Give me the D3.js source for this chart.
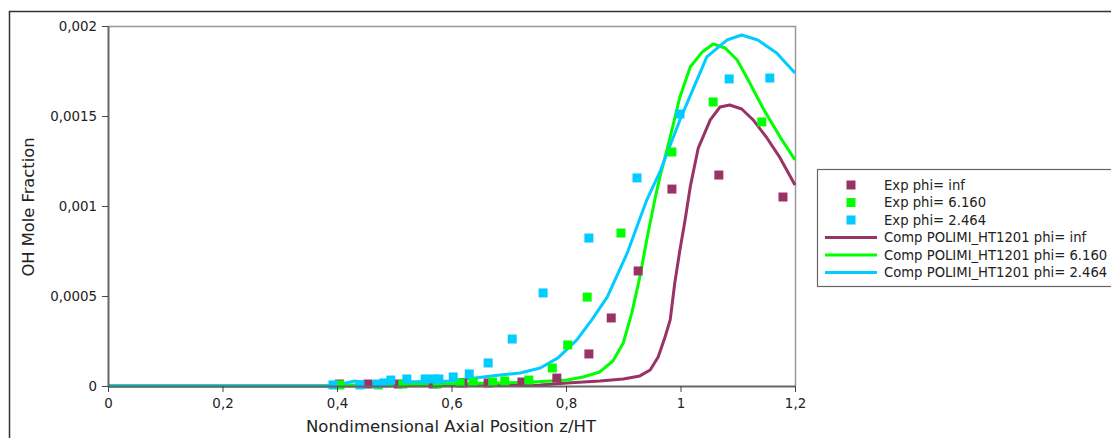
<!DOCTYPE html>
<html>
<head>
<meta charset="utf-8">
<script src="https://cdn.jsdelivr.net/npm/d3@7"></script>
<style>
  body { margin: 0; background: #fff; }
  svg { display: block; font-family: "DejaVu Sans", sans-serif; }
</style>
</head>
<body>
<svg id="chart" width="1111" height="438"></svg>
<script>
// experimental points [z/HT, OH]
const expInf = [
  [0.404, 0.000011], [0.454, 0.000011], [0.507, 0.000011], [0.568, 0.000011],
  [0.620, 0.000017], [0.664, 0.000017], [0.723, 0.000022], [0.784, 0.000044],
  [0.840, 0.000178], [0.879, 0.000378], [0.926, 0.000639], [0.985, 0.001094],
  [1.067, 0.001172], [1.179, 0.001050]
]
const exp6160 = [
  [0.405, 0.000006], [0.472, 0.000006], [0.515, 0.000011], [0.575, 0.000011],
  [0.615, 0.000017], [0.638, 0.000022], [0.672, 0.000022], [0.693, 0.000028],
  [0.735, 0.000033], [0.776, 0.000100], [0.803, 0.000228], [0.837, 0.000494],
  [0.896, 0.000850], [0.985, 0.001300], [1.057, 0.001578], [1.142, 0.001467]
]
const exp2464 = [
  [0.393, 0.000006], [0.440, 0.000006], [0.470, 0.000011], [0.482, 0.000017],
  [0.494, 0.000033], [0.522, 0.000039], [0.554, 0.000039], [0.568, 0.000039],
  [0.578, 0.000039], [0.603, 0.000050], [0.631, 0.000067], [0.664, 0.000128],
  [0.706, 0.000261], [0.760, 0.000517], [0.840, 0.000822], [0.924, 0.001156],
  [0.999, 0.001511], [1.085, 0.001706], [1.156, 0.001711]
]

// computed profiles
const compInf = [
  [0, 0], [0.4, 0], [0.685, 0.000003], [0.755, 0.000006], [0.802, 0.000017],
  [0.859, 0.000028], [0.900, 0.000039], [0.929, 0.000056], [0.947, 0.000089],
  [0.961, 0.000161], [0.973, 0.000272], [0.982, 0.000367], [0.990, 0.000572],
  [0.999, 0.000756], [1.008, 0.000922], [1.017, 0.001106], [1.031, 0.001322],
  [1.052, 0.001478], [1.069, 0.001550], [1.086, 0.001561], [1.107, 0.001539],
  [1.127, 0.001478], [1.151, 0.001378], [1.174, 0.001267], [1.200, 0.001117]
]
const comp6160 = [
  [0, 0], [0.405, 0], [0.423, 0.000006], [0.685, 0.000017], [0.742, 0.000022],
  [0.802, 0.000033], [0.830, 0.000050], [0.859, 0.000078], [0.882, 0.000139],
  [0.900, 0.000239], [0.915, 0.000406], [0.929, 0.000606], [0.941, 0.000811],
  [0.955, 0.001033], [0.964, 0.001161], [0.982, 0.001383], [0.999, 0.001606],
  [1.017, 0.001772], [1.038, 0.001856], [1.057, 0.001900], [1.078, 0.001878],
  [1.099, 0.001811], [1.121, 0.001683], [1.144, 0.001544], [1.174, 0.001383],
  [1.200, 0.001256]
]
const comp2464 = [
  [0, 0], [0.393, 0], [0.431, 0.000028], [0.458, 0.000017], [0.510, 0.000022],
  [0.597, 0.000028], [0.685, 0.000061], [0.720, 0.000072], [0.755, 0.000100],
  [0.786, 0.000156], [0.819, 0.000256], [0.845, 0.000367], [0.872, 0.000494],
  [0.907, 0.000739], [0.941, 0.001033], [0.964, 0.001189], [0.999, 0.001478],
  [1.046, 0.001828], [1.081, 0.001922], [1.107, 0.001950], [1.135, 0.001922],
  [1.168, 0.001850], [1.200, 0.001739]
]

const xTicks = [0, 0.2, 0.4, 0.6, 0.8, 1, 1.2]
const yTicks = [0, 0.0005, 0.001, 0.0015, 0.002]

const series = [
  { name: 'Exp phi= inf', type: 'exp', data: expInf, color: '#993366' },
  { name: 'Exp phi= 6.160', type: 'exp', data: exp6160, color: '#00ff00' },
  { name: 'Exp phi= 2.464', type: 'exp', data: exp2464, color: '#00ccff' },
  { name: 'Comp POLIMI_HT1201 phi= inf', type: 'comp', data: compInf, color: '#993366' },
  { name: 'Comp POLIMI_HT1201 phi= 6.160', type: 'comp', data: comp6160, color: '#00ff00' },
  { name: 'Comp POLIMI_HT1201 phi= 2.464', type: 'comp', data: comp2464, color: '#00ccff' }
]

const svg = d3.select('#chart')
const m = { left: 108, top: 26, right: 795, bottom: 386 }

const locale = d3.formatLocale({ decimal: ',', thousands: '.', grouping: [3], currency: ['', ''] })
const fmt = locale.format('~g')

const x = d3.scaleLinear().domain([0, 1.2]).range([m.left, m.right])
const y = d3.scaleLinear().domain([0, 0.002]).range([m.bottom, m.top])

// outer frame
svg.append('path')
  .attr('d', 'M9.5,445 L9.5,11.5 L1120,11.5')
  .attr('fill', 'none')
  .attr('stroke', '#333')
  .attr('stroke-width', 1.5)

// plot frame (top / right)
svg.append('path')
  .attr('d', `M${m.left},${m.top + 0.5} L${m.right + 0.5},${m.top + 0.5} L${m.right + 0.5},${m.bottom}`)
  .attr('fill', 'none')
  .attr('stroke', '#999')
  .attr('stroke-width', 1.5)

const plot = svg.append('g')

// lines
const line = d3.line().x(d => x(d[0])).y(d => y(d[1]))
series.filter(s => s.type === 'comp').forEach(s => {
  plot.append('path')
    .datum(s.data)
    .attr('d', line)
    .attr('fill', 'none')
    .attr('stroke', s.color)
    .attr('stroke-width', 3)
    .attr('stroke-linejoin', 'round')
})

// squares
const sq = 9
series.filter(s => s.type === 'exp').forEach(s => {
  plot.selectAll(null)
    .data(s.data)
    .join('rect')
    .attr('x', d => x(d[0]) - sq / 2)
    .attr('y', d => y(d[1]) - sq / 2)
    .attr('width', sq)
    .attr('height', sq)
    .attr('fill', s.color)
})

// axes
const xAxis = svg.append('g')
  .attr('transform', `translate(0,${m.bottom})`)
  .call(d3.axisBottom(x).tickValues(xTicks).tickFormat(fmt).tickSize(6).tickSizeOuter(0))
const yAxis = svg.append('g')
  .attr('transform', `translate(${m.left},0)`)
  .call(d3.axisLeft(y).tickValues(yTicks).tickFormat(fmt).tickSize(6).tickPadding(5).tickSizeOuter(0))

;[xAxis, yAxis].forEach(a => {
  a.select('.domain').attr('stroke', '#666').attr('stroke-width', 2)
  a.selectAll('.tick line').attr('stroke', '#444')
  a.selectAll('.tick text')
    .attr('fill', '#222')
    .style('font-size', '13.4px')
    .style('font-family', '"DejaVu Sans", sans-serif')
})
xAxis.selectAll('.tick text').attr('dy', '1.0em')

// axis titles
svg.append('text')
  .attr('x', 451)
  .attr('y', 432)
  .attr('text-anchor', 'middle')
  .style('font-size', '16.5px')
  .attr('fill', '#222')
  .text('Nondimensional Axial Position z/HT')

svg.append('text')
  .attr('transform', 'translate(34,207) rotate(-90)')
  .attr('text-anchor', 'middle')
  .style('font-size', '16.3px')
  .attr('fill', '#222')
  .text('OH Mole Fraction')

// legend
const lg = svg.append('g')
lg.append('rect')
  .attr('x', 817.5).attr('y', 169.5)
  .attr('width', 320).attr('height', 117)
  .attr('fill', '#fff')
  .attr('stroke', '#666')
  .attr('stroke-width', 1.2)

series.forEach((s, i) => {
  const cy = 185 + i * 17.5
  if (s.type === 'exp') {
    lg.append('rect')
      .attr('x', 851 - 4.5).attr('y', cy - 4.5)
      .attr('width', sq).attr('height', sq)
      .attr('fill', s.color)
  } else {
    lg.append('line')
      .attr('x1', 825).attr('x2', 877)
      .attr('y1', cy).attr('y2', cy)
      .attr('stroke', s.color)
      .attr('stroke-width', 3)
  }
  lg.append('text')
    .attr('x', 884)
    .attr('y', cy)
    .attr('dy', '0.35em')
    .style('font-size', '13.2px')
    .attr('fill', '#222')
    .text(s.name)
})
</script>
</body>
</html>
